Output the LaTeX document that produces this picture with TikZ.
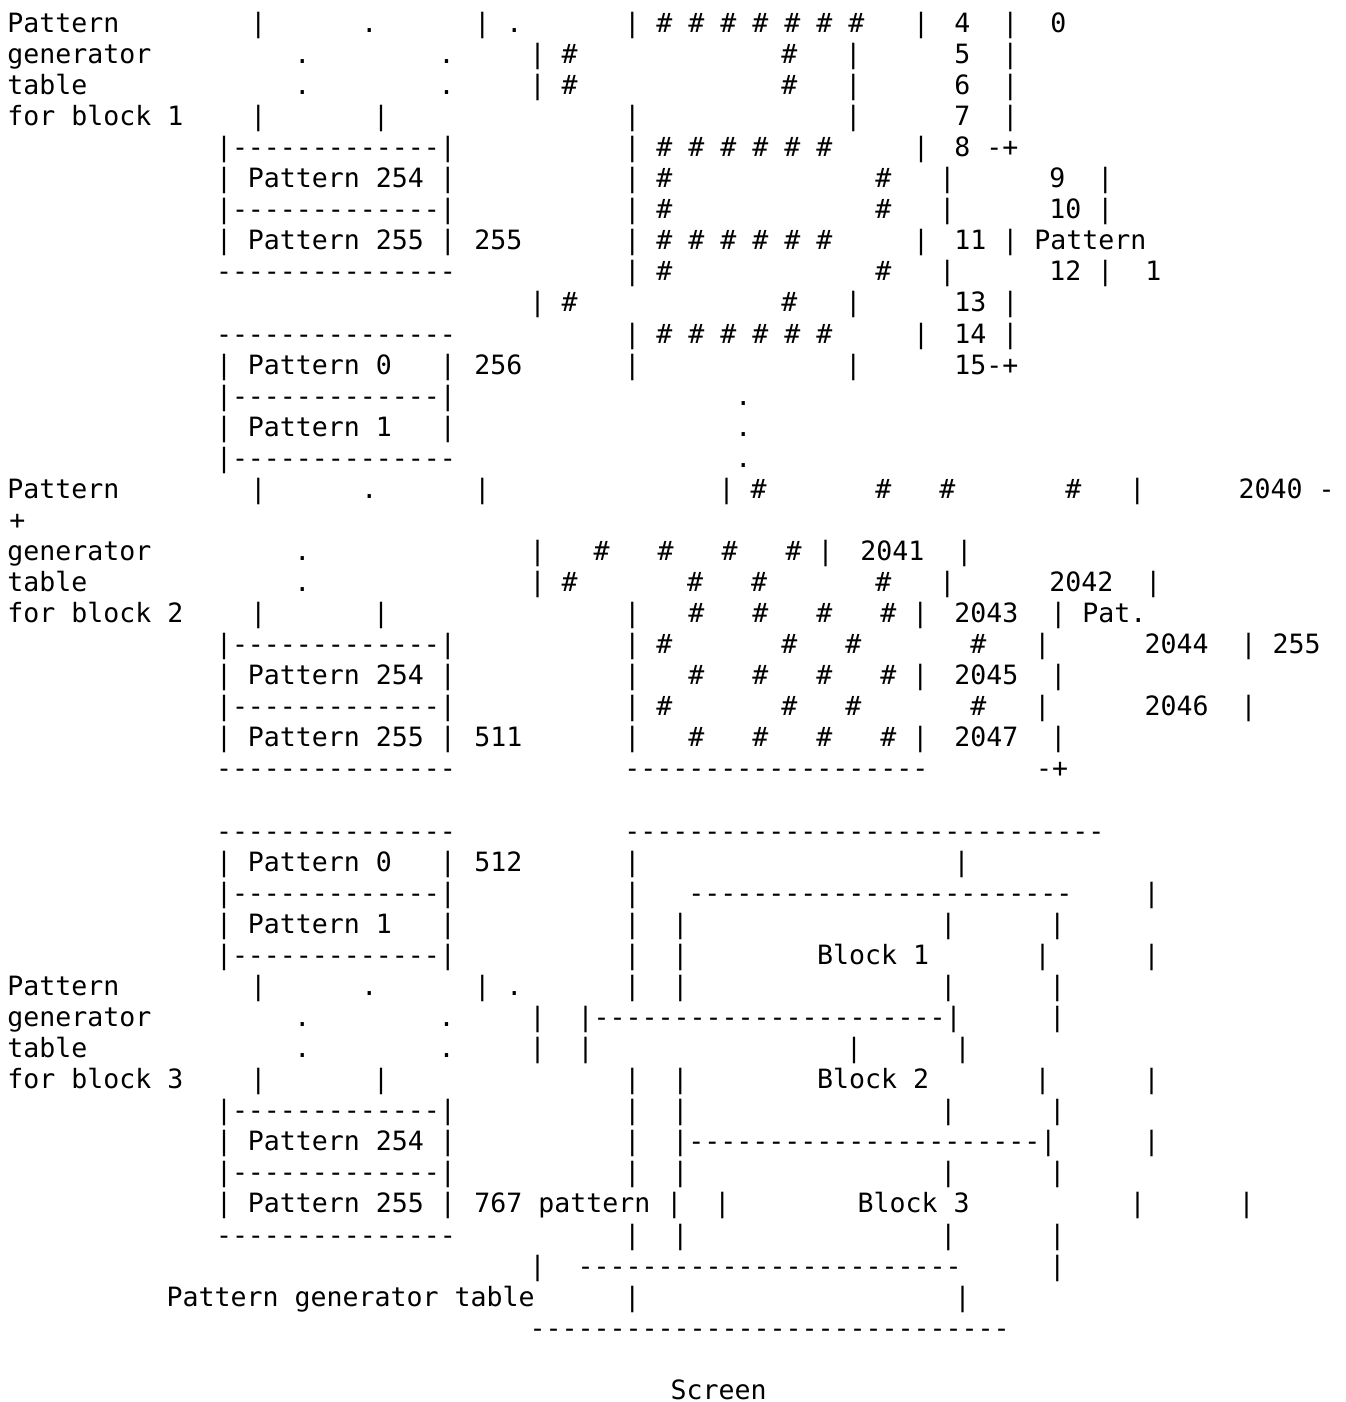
\documentclass[tikz,border=0pt]{standalone}
\usepackage{fontspec}
\setmonofont{DejaVu Sans Mono}
\newcounter{segno}
\tikzset{txt/.style={anchor=base west, inner sep=0pt, outer sep=0pt, text=black,
  font=\ttfamily\frenchspacing\fontsize{26.575}{31}\selectfont}}
% #1 = x centre of first character (px), #2 = line number, #3 = text
\newcommand\T[3]{\stepcounter{segno}\node[txt] (s\arabic{segno}) at ({#1-8},{-(32.3+(#2-1)*31.07)}) {#3};}
\begin{document}
\begin{tikzpicture}[x=1pt,y=1pt]
\fill[white] (0,0) rectangle (1345,-1402);
\useasboundingbox (0,0) rectangle (1345,-1402);
% line 1
\T{15.4}{1}{Pattern}
\T{258.3}{1}{|}
\T{369.3}{1}{.}
\T{482.3}{1}{|~.}
\T{632.3}{1}{|~\#~\#~\#~\#~\#~\#~\#}
\T{921}{1}{|}
\T{962.3}{1}{4~~|~~0}
% line 2
\T{15.4}{2}{generator}
\T{302.3}{2}{.}
\T{446.7}{2}{.}
\T{537.7}{2}{|~\#}
\T{789.3}{2}{\#~~~|}
\T{962.3}{2}{5~~|}
% line 3
\T{15.4}{3}{table}
\T{302.3}{3}{.}
\T{446.7}{3}{.}
\T{537.7}{3}{|~\#}
\T{789.3}{3}{\#~~~|}
\T{962.3}{3}{6~~|}
% line 4
\T{15.4}{4}{for~block~1}
\T{258.3}{4}{|}
\T{381}{4}{|}
\T{632.3}{4}{|}
\T{853.3}{4}{|}
\T{962.3}{4}{7~~|}
% line 5
\T{224}{5}{|-------------|}
\T{632.3}{5}{|~\#~\#~\#~\#~\#~\#}
\T{921}{5}{|}
\T{962.3}{5}{8~-+}
% line 6
\T{224}{6}{|~Pattern~254~|}
\T{632.3}{6}{|~\#}
\T{883.3}{6}{\#~~~|}
\T{1057.3}{6}{9~~|}
% line 7
\T{224}{7}{|-------------|}
\T{632.3}{7}{|~\#}
\T{883.3}{7}{\#~~~|}
\T{1057.3}{7}{10~|}
% line 8
\T{224}{8}{|~Pattern~255~|}
\T{482.3}{8}{255}
\T{632.3}{8}{|~\#~\#~\#~\#~\#~\#}
\T{921}{8}{|}
\T{962.3}{8}{11~|~Pattern}
% line 9
\T{224}{9}{---------------}
\T{632.3}{9}{|~\#}
\T{883.3}{9}{\#~~~|}
\T{1057.3}{9}{12~|~~1}
% line 10
\T{537.7}{10}{|~\#}
\T{789.3}{10}{\#~~~|}
\T{962.3}{10}{13~|}
% line 11
\T{224}{11}{---------------}
\T{632.3}{11}{|~\#~\#~\#~\#~\#~\#}
\T{921}{11}{|}
\T{962.3}{11}{14~|}
% line 12
\T{224}{12}{|~Pattern~0~~~|}
\T{482.3}{12}{256}
\T{632.3}{12}{|}
\T{853.3}{12}{|}
\T{962.3}{12}{15-+}
% lines 13-15
\T{224}{13}{|-------------|}
\T{743.3}{13}{.}
\T{224}{14}{|~Pattern~1~~~|}
\T{743.3}{14}{.}
\T{224}{15}{|--------------}
\T{743.3}{15}{.}
% line 16
\T{15.4}{16}{Pattern}
\T{258.3}{16}{|}
\T{369.3}{16}{.}
\T{482.3}{16}{|}
\T{726.7}{16}{|~\#}
\T{883.3}{16}{\#~~~\#}
\T{1073.3}{16}{\#~~~|}
\T{1246.7}{16}{2040~-}
% line 17
\T{17.3}{17}{+}
% line 18
\T{15.4}{18}{generator}
\T{302.3}{18}{.}
\T{537.7}{18}{|~~~\#~~~\#~~~\#~~~\#~|}
\T{868.3}{18}{2041~~|}
% line 19
\T{15.4}{19}{table}
\T{302.3}{19}{.}
\T{537.7}{19}{|~\#}
\T{695}{19}{\#~~~\#}
\T{883.3}{19}{\#~~~|}
\T{1057.3}{19}{2042~~|}
% line 20
\T{15.4}{20}{for~block~2}
\T{258.3}{20}{|}
\T{381}{20}{|}
\T{632.3}{20}{|~~~\#~~~\#~~~\#~~~\#~|}
\T{962.3}{20}{2043~~|~Pat.}
% line 21
\T{224}{21}{|-------------|}
\T{632.3}{21}{|~\#}
\T{789.3}{21}{\#~~~\#}
\T{978.3}{21}{\#~~~|}
\T{1152.7}{21}{2044~~|~255}
% line 22
\T{224}{22}{|~Pattern~254~|}
\T{632.3}{22}{|~~~\#~~~\#~~~\#~~~\#~|}
\T{962.3}{22}{2045~~|}
% line 23
\T{224}{23}{|-------------|}
\T{632.3}{23}{|~\#}
\T{789.3}{23}{\#~~~\#}
\T{978.3}{23}{\#~~~|}
\T{1152.7}{23}{2046~~|}
% line 24
\T{224}{24}{|~Pattern~255~|}
\T{482.3}{24}{511}
\T{632.3}{24}{|~~~\#~~~\#~~~\#~~~\#~|}
\T{962.3}{24}{2047~~|}
% line 25
\T{224}{25}{---------------}
\T{632.3}{25}{-------------------}
\T{1044}{25}{-+}
% line 27
\T{224}{27}{---------------}
\T{632.3}{27}{------------------------------}
% line 28
\T{224}{28}{|~Pattern~0~~~|}
\T{482.3}{28}{512}
\T{632.3}{28}{|}
\T{961.7}{28}{|}
% line 29
\T{224}{29}{|-------------|}
\T{632.3}{29}{|~~~------------------------}
\T{1151.7}{29}{|}
% line 30
\T{224}{30}{|~Pattern~1~~~|}
\T{632.3}{30}{|~~|}
\T{948.3}{30}{|}
\T{1057.3}{30}{|}
% line 31
\T{224}{31}{|-------------|}
\T{632.3}{31}{|~~|}
\T{825}{31}{Block~1}
\T{1042.7}{31}{|}
\T{1151.7}{31}{|}
% line 32
\T{15.4}{32}{Pattern}
\T{258.3}{32}{|}
\T{369.3}{32}{.}
\T{482.3}{32}{|~.}
\T{632.3}{32}{|~~|}
\T{948.3}{32}{|}
\T{1057.3}{32}{|}
% line 33
\T{15.4}{33}{generator}
\T{302.3}{33}{.}
\T{446.7}{33}{.}
\T{537.7}{33}{|~~|----------------------|}
\T{1057.3}{33}{|}
% line 34
\T{15.4}{34}{table}
\T{302.3}{34}{.}
\T{446.7}{34}{.}
\T{537.7}{34}{|~~|}
\T{854}{34}{|}
\T{962.7}{34}{|}
% line 35
\T{15.4}{35}{for~block~3}
\T{258.3}{35}{|}
\T{381}{35}{|}
\T{632.3}{35}{|~~|}
\T{825}{35}{Block~2}
\T{1042.7}{35}{|}
\T{1151.7}{35}{|}
% line 36
\T{224}{36}{|-------------|}
\T{632.3}{36}{|~~|}
\T{948.3}{36}{|}
\T{1057.3}{36}{|}
% line 37
\T{224}{37}{|~Pattern~254~|}
\T{632.3}{37}{|~~|----------------------|}
\T{1151.7}{37}{|}
% line 38
\T{224}{38}{|-------------|}
\T{632.3}{38}{|~~|}
\T{948.3}{38}{|}
\T{1057.3}{38}{|}
% line 39
\T{224}{39}{|~Pattern~255~|}
\T{482.3}{39}{767~pattern~|~~|}
\T{865.7}{39}{Block~3}
\T{1137.7}{39}{|}
\T{1246.7}{39}{|}
% line 40
\T{224}{40}{---------------}
\T{632.3}{40}{|~~|}
\T{948.3}{40}{|}
\T{1057.3}{40}{|}
% line 41
\T{537.7}{41}{|~~------------------------}
\T{1057.3}{41}{|}
% line 42
\T{174.7}{42}{Pattern~generator~table}
\T{632.3}{42}{|}
\T{962.7}{42}{|}
% line 43
\T{537.7}{43}{------------------------------}
% line 45
\node[txt, text depth=0pt] (screen) at (670.5,-1399.4) {Screen};
\end{tikzpicture}
\end{document}
